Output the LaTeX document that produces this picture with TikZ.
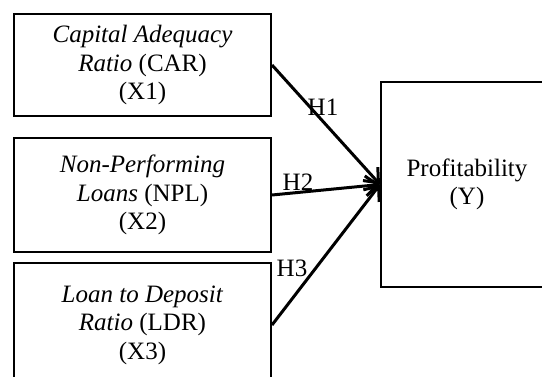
\documentclass[tikz,border=0pt]{standalone}
\usepackage{fontspec}
\setmainfont{Liberation Serif}
\usetikzlibrary{arrows.meta}

\tikzset{
  varbox/.style={draw, line width=2pt, align=center, inner sep=0pt,
    minimum width=257pt, font=\fontsize{25}{28.5}\selectfont},
  hyparrow/.style={line width=3pt, -{Straight Barb[length=12pt,width=20pt,line width=3pt]}},
  hyplabel/.style={inner sep=0pt, font=\fontsize{25}{28.5}\selectfont}
}

\begin{document}
\begin{tikzpicture}[x=1pt,y=-1pt]

  \useasboundingbox (0,0) rectangle (542,376);

  % independent variables
  \node[varbox, minimum height=102pt] (car) at (142.5,65)
    {\textit{Capital Adequacy}\\\textit{Ratio} (CAR)\\(X1)};
  \node[varbox, minimum height=114pt] (npl) at (142.5,195)
    {\textit{Non-Performing}\\\textit{Loans} (NPL)\\(X2)};
  \node[varbox, minimum height=124pt] (ldr) at (142.5,325)
    {\textit{Loan to Deposit}\\\textit{Ratio} (LDR)\\(X3)};

  % dependent variable
  \node[varbox, minimum width=172pt, minimum height=205pt] (prof) at (467,184.5)
    {Profitability\\(Y)};

  % hypotheses
  \foreach \src in {car,npl,ldr}
    \draw[hyparrow] (\src.east) -- (prof.west);

  \node[hyplabel] (h1) at (323,107) {H1};
  \node[hyplabel] (h2) at (298,182) {H2};
  \node[hyplabel] (h3) at (292,268) {H3};

\end{tikzpicture}
\end{document}
